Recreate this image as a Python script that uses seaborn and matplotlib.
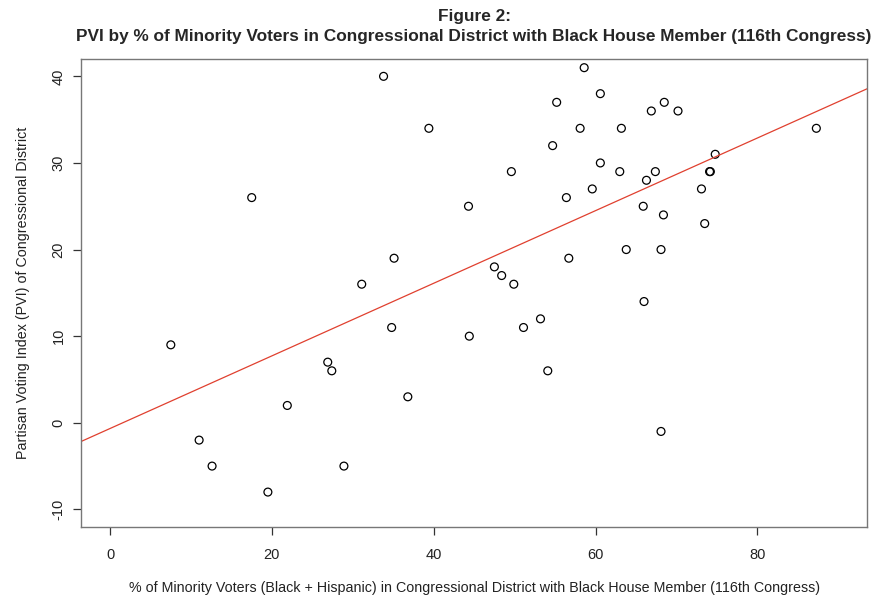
import matplotlib
matplotlib.use("Agg")
import matplotlib.pyplot as plt
import numpy as np
import pandas as pd
import seaborn as sns

# --- data (one row per district) ---
minority_pct = [7.5, 11.0, 12.6, 17.5, 19.5, 21.9, 26.9, 27.4, 28.9, 31.1,
                33.8, 34.8, 35.1, 36.8, 39.4, 44.3, 44.4, 47.5, 48.4, 49.6,
                49.9, 51.1, 53.2, 54.1, 54.7, 55.2, 56.4, 56.7, 58.1, 58.6,
                59.6, 60.6, 60.6, 63.0, 63.2, 63.8, 65.9, 66.0, 66.3, 66.9,
                67.4, 68.1, 68.1, 68.4, 68.5, 70.2, 73.1, 73.5, 74.1, 74.2,
                74.8, 87.3]
pvi = [9, -2, -5, 26, -8, 2, 7, 6, -5, 16,
       40, 11, 19, 3, 34, 25, 10, 18, 17, 29,
       16, 11, 12, 6, 32, 37, 26, 19, 34, 41,
       27, 30, 38, 29, 34, 20, 25, 14, 28, 36,
       29, -1, 20, 24, 37, 36, 27, 23, 29, 29,
       31, 34]

x_ticks = [0, 20, 40, 60, 80]
y_ticks = [-10, 0, 10, 20, 30, 40]

df = pd.DataFrame({"minority": minority_pct, "pvi": pvi})

sns.set_style("white")
plt.rcParams["font.family"] = ["Liberation Sans", "DejaVu Sans"]

fig = plt.figure(figsize=(8.75, 6.01), dpi=100)
ax = fig.add_axes([0.0926, 0.1236, 0.8986, 0.7782])

# R style limits: xlim=c(0,90), ylim=c(-10,40) plus 4%
ax.set_xlim(-3.6, 93.6)
ax.set_ylim(-12, 42)

sns.scatterplot(data=df, x="minority", y="pvi", ax=ax, marker="o",
                facecolor="none", edgecolor="black", linewidth=0.9, s=32)
sns.regplot(data=df, x="minority", y="pvi", ax=ax, scatter=False, ci=None,
            truncate=False, color="#e0402f", line_kws={"lw": 0.9})

ax.set_xlim(-3.6, 93.6)
ax.set_ylim(-12, 42)

for sp in ax.spines.values():
    sp.set_color("#777777")
    sp.set_linewidth(1.0)

ax.set_xticks(x_ticks)
ax.set_yticks(y_ticks)
ax.tick_params(axis="both", direction="out", length=6, width=0.9,
               bottom=True, left=True,
               color="#333333", labelcolor="#222222")
ax.tick_params(axis="x", pad=9, labelsize=10.5)
ax.tick_params(axis="y", pad=5, labelsize=10.5)
ax.set_xticklabels([str(t) for t in x_ticks])
ax.set_yticklabels([str(t) for t in y_ticks], rotation=90, va="center")

ax.set_xlabel("% of Minority Voters (Black + Hispanic) in Congressional District with Black House Member (116th Congress)",
              fontsize=10.3, labelpad=14, color="#222222")
ax.set_ylabel("Partisan Voting Index (PVI) of Congressional District",
              fontsize=10.3, labelpad=16, color="#222222")

ax.set_title("Figure 2:\nPVI by % of Minority Voters in Congressional District with Black House Member (116th Congress)",
             fontsize=12.4, fontweight="bold", pad=13, linespacing=1.45)

fig.savefig("out.png", dpi=100)
